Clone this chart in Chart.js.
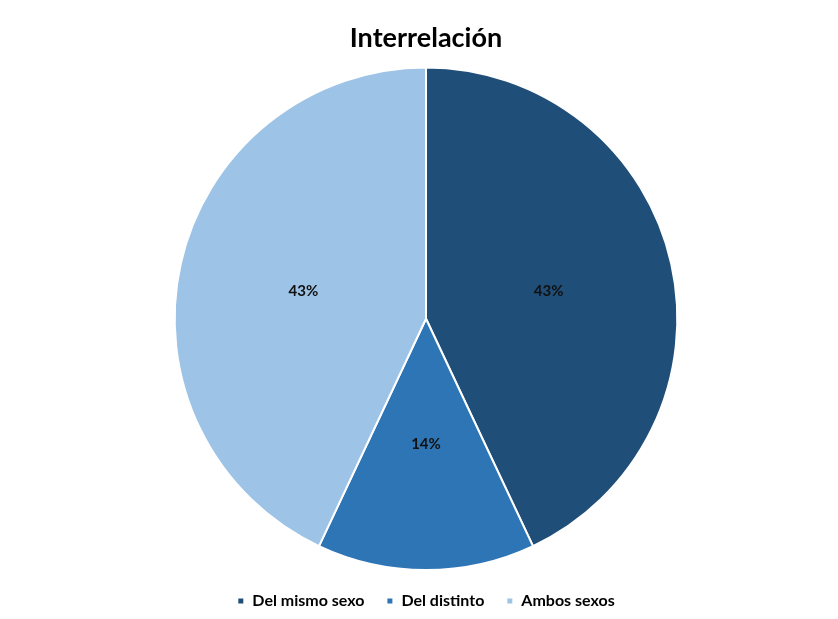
<!DOCTYPE html>
<html>
<head>
<meta charset="utf-8">
<script src="https://cdn.jsdelivr.net/npm/chart.js@4"></script>
<style>
  html, body { margin: 0; padding: 0; background: #fff; }
  #wrap { width: 838px; height: 619px; }
</style>
</head>
<body>
<div id="wrap"><canvas id="pieChart"></canvas></div>
<script>
const categories = ['Del mismo sexo', 'Del distinto', 'Ambos sexos'];
const shares = [43, 14, 43];
const sliceColors = ['#1F4E79', '#2E75B6', '#9DC3E6'];

// Percent labels at the middle of each slice
const sliceLabels = {
    id: 'sliceLabels',
    afterDatasetsDraw(chart) {
        const ctx = chart.ctx;
        const meta = chart.getDatasetMeta(0);
        ctx.save();
        ctx.font = 'bold 15px Lato, "Open Sans", sans-serif';
        ctx.fillStyle = '#111';
        ctx.textAlign = 'center';
        ctx.textBaseline = 'middle';
        meta.data.forEach((arc, i) => {
            const pos = arc.tooltipPosition();
            ctx.fillText(shares[i] + '%', pos.x, pos.y);
        });
        ctx.restore();
    }
};

const pieChart = new Chart(document.getElementById('pieChart'), {
    type: 'pie',
    data: {
        labels: categories,
        datasets: [{
            data: shares,
            backgroundColor: sliceColors,
            borderColor: '#ffffff',
            borderWidth: 2
        }]
    },
    options: {
        responsive: true,
        maintainAspectRatio: false,
        animation: false,
        layout: { padding: { top: 14, bottom: 0, left: 14 } },
        plugins: {
            title: {
                display: true,
                text: 'Interrelación',
                color: '#000',
                font: { family: 'Lato, "Open Sans", sans-serif', size: 27, weight: 'bold' },
                padding: { top: 8, bottom: 12 }
            },
            legend: {
                position: 'bottom',
                labels: {
                    color: '#000',
                    font: { family: 'Lato, "Open Sans", sans-serif', size: 16, weight: 'bold' },
                    usePointStyle: true,
                    pointStyle: 'rect',
                    boxWidth: 7,
                    boxHeight: 7,
                    padding: 22
                }
            },
            tooltip: { enabled: false }
        }
    },
    plugins: [sliceLabels]
});
</script>
</body>
</html>
